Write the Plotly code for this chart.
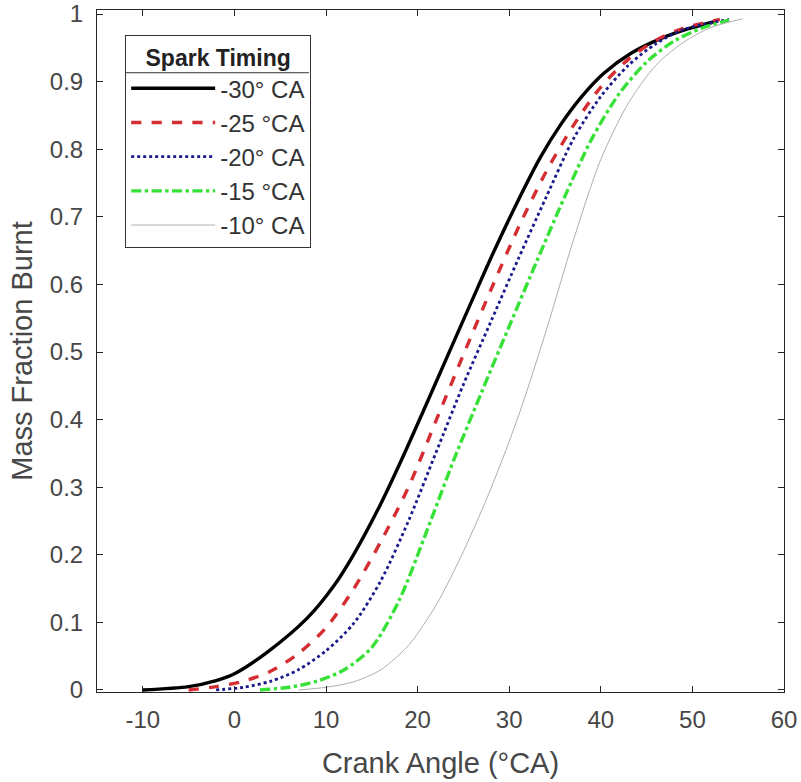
import plotly.graph_objects as go

# ---- data ----
x_m30 = [-10, -5, -2, 0, 3.6, 8, 10.8, 13, 16, 18.4, 20.7, 23.2, 25.8, 28.3, 31.3, 33.4, 35.6, 37.8, 40.3, 43.3, 46.6, 49.5, 52.5]
y_m30 = [0, 0.005, 0.014, 0.024, 0.056, 0.107, 0.153, 0.2, 0.276, 0.345, 0.415, 0.492, 0.572, 0.648, 0.733, 0.788, 0.836, 0.876, 0.912, 0.942, 0.964, 0.978, 0.989]

x_m25 = [-5, -2, 1, 4, 7, 10, 13, 16, 19, 22, 25, 28, 31, 34, 37, 40, 43, 46, 49, 53]
y_m25 = [0, 0.005, 0.013, 0.028, 0.054, 0.092, 0.149, 0.22, 0.30, 0.398, 0.496, 0.592, 0.684, 0.766, 0.835, 0.892, 0.933, 0.961, 0.979, 0.992]

x_m20 = [-2, 1, 4, 7, 10, 13, 16, 19, 22, 25, 28, 31, 34, 37, 40, 43, 46, 49, 54]
y_m20 = [0, 0.004, 0.013, 0.03, 0.058, 0.098, 0.162, 0.25, 0.351, 0.452, 0.545, 0.638, 0.728, 0.815, 0.878, 0.924, 0.956, 0.977, 0.992]

x_m15 = [2.8, 6, 9, 12, 15, 18, 21, 24, 27, 30, 33, 36, 39, 42, 45, 48, 51, 54]
y_m15 = [0, 0.004, 0.013, 0.03, 0.063, 0.133, 0.235, 0.342, 0.441, 0.538, 0.634, 0.728, 0.815, 0.882, 0.929, 0.96, 0.979, 0.991]

x_m10 = [7, 10, 13, 16, 19, 22, 25, 28, 31, 34, 37, 40, 43, 46, 49, 52, 55.5]
y_m10 = [0, 0.004, 0.012, 0.03, 0.066, 0.125, 0.205, 0.298, 0.405, 0.53, 0.665, 0.785, 0.868, 0.924, 0.958, 0.98, 0.993]

series_names = ["-30° CA", "-25 °CA", "-20° CA", "-15 °CA", "-10° CA"]
xs = [x_m30, x_m25, x_m20, x_m15, x_m10]
ys = [y_m30, y_m25, y_m20, y_m15, y_m10]
colors = ["#000000", "rgb(212,45,50)", "rgb(25,25,140)", "rgb(55,225,55)", "rgb(175,175,175)"]
widths = [3.4, 3.4, 2.8, 3.4, 1.0]
dashes = ["solid", "dash", "dot", "dashdot", "solid"]

x_ticks = [-10, 0, 10, 20, 30, 40, 50, 60]
x_tick_text = ["-10", "0", "10", "20", "30", "40", "50", "60"]
y_ticks = [0, 0.1, 0.2, 0.3, 0.4, 0.5, 0.6, 0.7, 0.8, 0.9, 1]
y_tick_text = ["0", "0.1", "0.2", "0.3", "0.4", "0.5", "0.6", "0.7", "0.8", "0.9", "1"]

FONT = "Liberation Sans, Arial, sans-serif"
TXT = "#474747"

fig = go.Figure()
for i, (name, x, y, c, w, d) in enumerate(zip(series_names, xs, ys, colors, widths, dashes)):
    fig.add_trace(go.Scatter(
        x=x, y=y, mode="lines", name=name,
        line=dict(color=c, width=w, dash=d, shape="spline", smoothing=0.8),
    ))

axis_common = dict(
    showline=True, linecolor="#262626", linewidth=1, mirror="ticks",
    ticks="inside", ticklen=6, tickcolor="#262626", tickwidth=1,
    showgrid=False, zeroline=False, automargin=False,
    tickfont=dict(family=FONT, size=24, color=TXT),
)

fig.update_xaxes(
    range=[-15, 60], tickvals=x_ticks, ticktext=x_tick_text,
    title=dict(text="Crank Angle (°CA)", font=dict(family=FONT, size=29, color=TXT), standoff=20),
    ticklabelstandoff=6,
    **axis_common,
)
fig.update_yaxes(
    range=[-0.003, 1.006], tickvals=y_ticks, ticktext=y_tick_text,
    title=dict(text="Mass Fraction Burnt", font=dict(family=FONT, size=29, color=TXT), standoff=8),
    ticklabelstandoff=8,
    **axis_common,
)

# separator line under the legend title
fig.add_shape(type="line", xref="paper", yref="paper",
              x0=0.0408, x1=0.3086, y0=0.908, y1=0.908,
              line=dict(color="#333333", width=1), layer="above")

fig.update_layout(
    width=801, height=782,
    margin=dict(l=97, r=17, t=10, b=90),
    paper_bgcolor="white", plot_bgcolor="white",
    font=dict(family=FONT, color="#333333"),
    showlegend=True,
    legend=dict(
        x=0.041, y=0.963, xanchor="left", yanchor="top",
        bgcolor="rgba(255,255,255,0)", bordercolor="#333333", borderwidth=1,
        font=dict(family=FONT, size=24, color="#333333"),
        title=dict(text="<b>Spark Timing</b>", font=dict(family=FONT, size=23, color="#222222"), side="top center"),
        itemwidth=84, tracegroupgap=0,
    ),
)

fig.write_html("out.html", config={"displayModeBar": False},
               post_script="document.body.style.margin='0';")
